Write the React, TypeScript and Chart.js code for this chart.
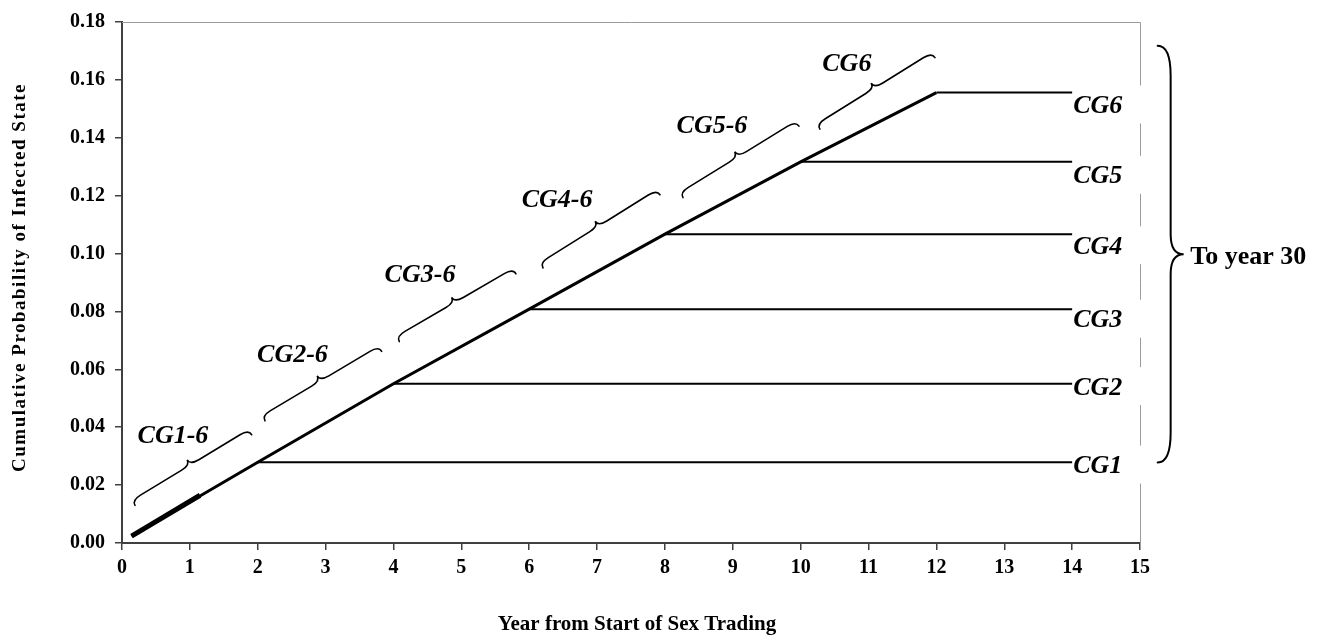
import React, { useEffect, useRef } from "react";
import { Chart, registerables } from "chart.js";

Chart.register(...registerables);

const FONT = '"Liberation Serif", "Times New Roman", serif';

// Main cumulative curve
const mainX = [0.14, 2, 4, 6, 8, 10, 12];
const mainY = [0.0024, 0.0279, 0.055, 0.0808, 0.1067, 0.1317, 0.1556];

// Thicker initial segment
const startX = [0.14, 1.15];
const startY = [0.0024, 0.0165];

// Groups (plateaus)
const groups = ["CG1", "CG2", "CG3", "CG4", "CG5", "CG6"];
const groupStart = [2, 4, 6, 8, 10, 12];
const groupLevel = [0.0279, 0.055, 0.0808, 0.1067, 0.1317, 0.1556];
const groupEnd = 14;
const groupLabelY = [0.0271, 0.0542, 0.0775, 0.1029, 0.1272, 0.1515];

// Braces along the curve
const braceLabels = ["CG1-6", "CG2-6", "CG3-6", "CG4-6", "CG5-6", "CG6"];
const braceStartX = [0.192, 2.107, 4.086, 6.203, 8.266, 10.284];
const braceStartY = [0.013, 0.0422, 0.0696, 0.095, 0.1193, 0.143];
const braceEndX = [1.911, 3.826, 5.805, 7.927, 9.975, 11.979];
const braceEndY = [0.0374, 0.0662, 0.093, 0.1203, 0.144, 0.1677];
const braceLabelX = [0.751, 2.512, 4.391, 6.41, 8.693, 10.68];
const braceLabelY = [0.0374, 0.0656, 0.0933, 0.119, 0.1447, 0.1659];

// Big right brace
const bigBraceX = 15.26;
const bigBraceTopY = 0.1718;
const bigBraceBottomY = 0.0278;
const bigBraceText = "To year 30";
const bigBraceTextX = 15.74;
const bigBraceTextY = 0.0994;

const xTicks = [0, 1, 2, 3, 4, 5, 6, 7, 8, 9, 10, 11, 12, 13, 14, 15];
const yTicks = [0, 0.02, 0.04, 0.06, 0.08, 0.1, 0.12, 0.14, 0.16, 0.18];

const xTitle = "Year from Start of Sex Trading";
const yTitle = "Cumulative Probability of Infected State";

function drawBrace(
  ctx: CanvasRenderingContext2D,
  S: { x: number; y: number },
  E: { x: number; y: number },
  h: number,
  q: number,
  qt: number
) {
  const dx = E.x - S.x;
  const dy = E.y - S.y;
  const L = Math.hypot(dx, dy);
  const ux = dx / L;
  const uy = dy / L;
  const nx = uy;
  const ny = -ux;
  const p = (a: number, b: number) => [S.x + ux * a + nx * b, S.y + uy * a + ny * b] as [number, number];
  ctx.beginPath();
  ctx.moveTo(...p(0, 0));
  ctx.quadraticCurveTo(...p(0, h), ...p(q, h));
  ctx.lineTo(...p(L / 2 - qt, h));
  ctx.quadraticCurveTo(...p(L / 2, h), ...p(L / 2, 2 * h));
  ctx.quadraticCurveTo(...p(L / 2, h), ...p(L / 2 + qt, h));
  ctx.lineTo(...p(L - q, h));
  ctx.quadraticCurveTo(...p(L, h), ...p(L, 0));
  ctx.stroke();
}

const annotations = {
  id: "annotations",
  afterDraw(chart: any) {
    const ctx: CanvasRenderingContext2D = chart.ctx;
    const xs = chart.scales.x;
    const ys = chart.scales.y;
    const a = chart.chartArea;
    ctx.save();

    // top and right border
    ctx.strokeStyle = "#9a9a9a";
    ctx.lineWidth = 1;
    ctx.beginPath();
    ctx.moveTo(a.left, a.top + 0.5);
    ctx.lineTo(a.right + 0.5, a.top + 0.5);
    ctx.lineTo(a.right + 0.5, a.bottom);
    ctx.stroke();

    const labelFont = `italic bold 26px ${FONT}`;
    const capHalf = 0.331 * 26;

    // right labels with white boxes
    ctx.font = labelFont;
    groups.forEach((g, i) => {
      const lx = xs.getPixelForValue(groupEnd) + 1;
      const cy = ys.getPixelForValue(groupLabelY[i]);
      ctx.fillStyle = "#ffffff";
      ctx.fillRect(lx, cy - 19, a.right + 8 - lx, 38);
      ctx.fillStyle = "#000";
      ctx.textAlign = "left";
      ctx.textBaseline = "alphabetic";
      ctx.fillText(g, lx, cy + capHalf);
    });

    // braces along the curve
    ctx.strokeStyle = "#000";
    ctx.lineWidth = 1.6;
    ctx.lineCap = "round";
    braceLabels.forEach((lab, i) => {
      const S = { x: xs.getPixelForValue(braceStartX[i]), y: ys.getPixelForValue(braceStartY[i]) };
      const E = { x: xs.getPixelForValue(braceEndX[i]), y: ys.getPixelForValue(braceEndY[i]) };
      drawBrace(ctx, S, E, 6, 10, 10);
      ctx.fillStyle = "#000";
      ctx.textAlign = "center";
      ctx.textBaseline = "alphabetic";
      ctx.font = labelFont;
      ctx.fillText(lab, xs.getPixelForValue(braceLabelX[i]), ys.getPixelForValue(braceLabelY[i]) + capHalf);
    });

    // big brace
    ctx.lineWidth = 2;
    const bx = xs.getPixelForValue(bigBraceX);
    drawBrace(
      ctx,
      { x: bx, y: ys.getPixelForValue(bigBraceTopY) },
      { x: bx, y: ys.getPixelForValue(bigBraceBottomY) },
      13,
      30,
      20
    );
    ctx.font = `bold 26px ${FONT}`;
    ctx.textAlign = "left";
    ctx.fillText(bigBraceText, xs.getPixelForValue(bigBraceTextX), ys.getPixelForValue(bigBraceTextY) + capHalf);

    // axis titles
    ctx.font = `bold 21px ${FONT}`;
    ctx.textAlign = "center";
    ctx.fillText(xTitle, 637, 630);

    ctx.save();
    ctx.translate(25, 277.5);
    ctx.rotate(-Math.PI / 2);
    ctx.font = `bold 19px ${FONT}`;
    (ctx as any).letterSpacing = "1.5px";
    ctx.textAlign = "center";
    ctx.fillText(yTitle, 0, 0);
    ctx.restore();

    ctx.restore();
  },
};

export default function App() {
  const ref = useRef<HTMLCanvasElement>(null);
  useEffect(() => {
    document.body.style.margin = "0";
    document.body.style.overflow = "hidden";
    const lineDs = (data: { x: number; y: number }[], w: number) => ({
      data,
      borderColor: "#000",
      borderWidth: w,
      pointRadius: 0,
      tension: 0,
      fill: false,
      borderCapStyle: "butt" as const,
    });
    const datasets: any[] = [
      lineDs(mainX.map((x, i) => ({ x, y: mainY[i] })), 3),
      lineDs(startX.map((x, i) => ({ x, y: startY[i] })), 5),
      ...groups.map((g, i) =>
        lineDs(
          [
            { x: groupStart[i], y: groupLevel[i] },
            { x: groupEnd, y: groupLevel[i] },
          ],
          2
        )
      ),
    ];
    const tickFont = { family: FONT, size: 20, weight: "bold" as const };
    const chart = new Chart(ref.current as HTMLCanvasElement, {
      type: "line",
      data: { datasets },
      options: {
        animation: false,
        responsive: true,
        maintainAspectRatio: false,
        layout: { padding: { top: 18, right: 188, left: 0, bottom: 0 } },
        plugins: { legend: { display: false }, tooltip: { enabled: false } },
        scales: {
          x: {
            type: "linear",
            min: 0,
            max: 15,
            afterBuildTicks: (s: any) => {
              s.ticks = xTicks.map((v) => ({ value: v }));
            },
            afterFit: (s: any) => {
              s.height = 94;
            },
            ticks: {
              font: tickFont,
              color: "#000",
              padding: 6,
              maxRotation: 0,
              autoSkip: false,
              callback: (v: any) => String(v),
            },
            grid: { drawOnChartArea: false, drawTicks: true, tickLength: 7, color: "#404040", lineWidth: 1.5 },
            border: { display: true, color: "#404040", width: 2 },
          },
          y: {
            type: "linear",
            min: 0,
            max: 0.18,
            afterBuildTicks: (s: any) => {
              s.ticks = yTicks.map((v) => ({ value: v }));
            },
            afterFit: (s: any) => {
              s.width = 122;
            },
            ticks: {
              font: tickFont,
              color: "#000",
              padding: 10,
              callback: (v: any) => Number(v).toFixed(2),
            },
            grid: { drawOnChartArea: false, drawTicks: true, tickLength: 7, color: "#404040", lineWidth: 1.5 },
            border: { display: true, color: "#404040", width: 2 },
          },
        },
      },
      plugins: [annotations],
    });
    return () => chart.destroy();
  }, []);
  return (
    <div style={{ position: "fixed", left: 0, top: 0, width: 1328, height: 637 }}>
      <canvas ref={ref} />
    </div>
  );
}
